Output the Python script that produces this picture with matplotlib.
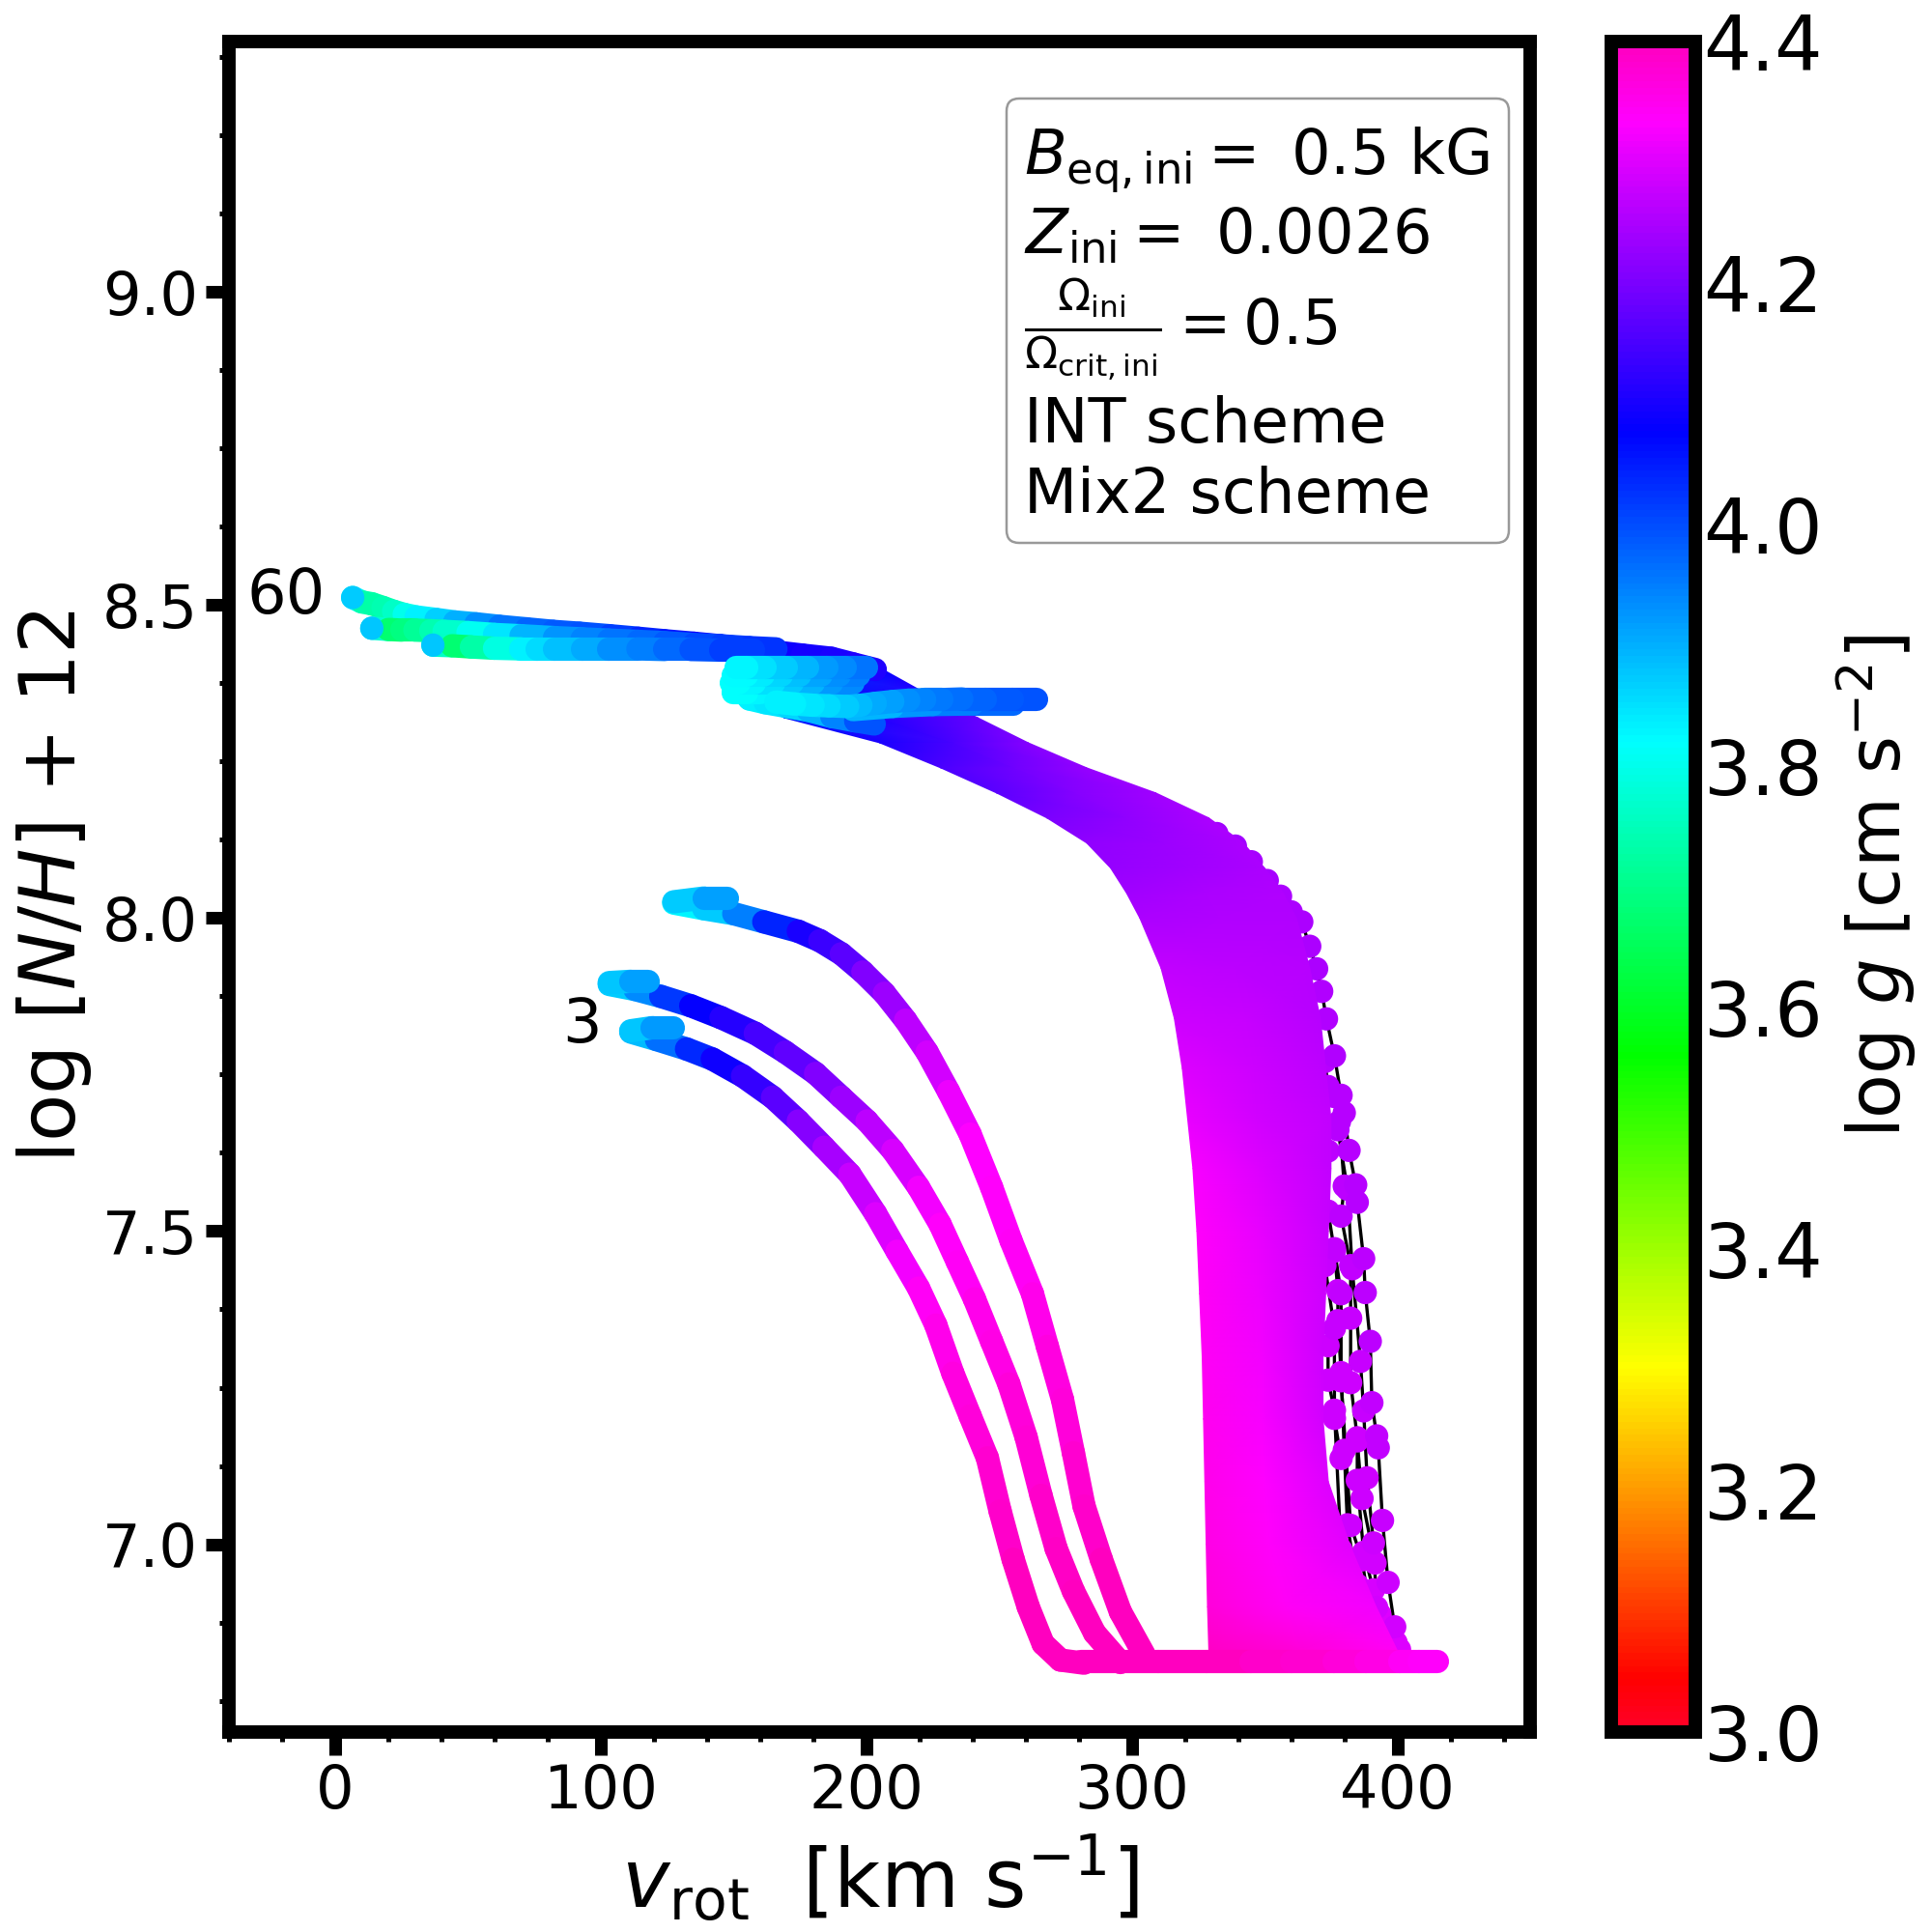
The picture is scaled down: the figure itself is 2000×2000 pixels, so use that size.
import numpy as np
import matplotlib
matplotlib.use("Agg")
import matplotlib.pyplot as plt
from matplotlib.collections import LineCollection
from matplotlib.colors import Normalize
from matplotlib.cm import ScalarMappable
from matplotlib.lines import Line2D
from matplotlib.patches import FancyBboxPatch
from matplotlib.ticker import MultipleLocator

# ---- massive-star fan: three bounding tracks sampled on shared N levels
fan_logn = [8.40, 8.36, 8.32, 8.28, 8.24, 8.20, 8.16, 8.12, 8.08, 8.04, 8.00, 7.92,
            7.84, 7.76, 7.68, 7.60, 7.50, 7.40, 7.30, 7.20, 7.10, 7.00, 6.90, 6.83]
fan_v_left = [150, 152, 169, 205, 228, 249, 268, 283, 292, 298, 303, 311,
              316, 319, 321, 323, 324.5, 325.5, 326.5, 327, 327.5, 328, 328.5, 329]
fan_v_mid = [178, 187, 205, 233, 256, 279, 298, 312, 321, 328, 333, 339,
             343, 346, 347, 348, 348, 348, 349, 349, 350, 352, 358, 364]
fan_v_right = [205, 222, 242, 261, 283, 309, 329, 342, 350, 357, 362, 367,
               371, 373, 375, 375, 374, 373, 372, 372, 374, 382, 392, 400]
fan_g_left = [3.90, 4.00, 4.05, 4.10, 4.15, 4.17, 4.20, 4.22, 4.23, 4.24, 4.25, 4.27,
              4.285, 4.30, 4.31, 4.325, 4.335, 4.34, 4.345, 4.35, 4.355, 4.36, 4.37, 4.39]
fan_g_mid = [4.00, 4.06, 4.11, 4.15, 4.19, 4.21, 4.22, 4.235, 4.24, 4.25, 4.255, 4.265,
             4.275, 4.285, 4.29, 4.30, 4.31, 4.315, 4.32, 4.325, 4.33, 4.335, 4.345, 4.37]
fan_g_right = [4.08, 4.12, 4.18, 4.21, 4.23, 4.24, 4.25, 4.25, 4.25, 4.255, 4.255, 4.26,
               4.26, 4.265, 4.27, 4.27, 4.275, 4.28, 4.285, 4.29, 4.30, 4.305, 4.32, 4.34]

# ---- ZAMS line along the bottom
zams_v = [281, 295, 310, 328, 345, 360, 376, 388, 401, 408, 415]
zams_n = [6.812, 6.812, 6.812, 6.812, 6.812, 6.812, 6.812, 6.812, 6.812, 6.812, 6.812]
zams_g = [4.40, 4.40, 4.40, 4.40, 4.39, 4.385, 4.375, 4.365, 4.35, 4.34, 4.33]

# ---- low-mass tracks
t1_v = [127.5, 138.8, 150.1, 161.4, 174.4, 182.5, 190.6, 198.7, 206.8, 214.8, 222.9, 231, 239.1, 247.2,
        254.5, 262.6, 268.2, 273.9, 278, 282, 288.5, 295.7, 304.6]
t1_n = [8.024, 8.015, 8.007, 7.994, 7.979, 7.964, 7.943, 7.914, 7.880, 7.837, 7.786, 7.723, 7.655, 7.570,
        7.485, 7.40, 7.316, 7.231, 7.146, 7.061, 6.976, 6.892, 6.824]
t1_g = [3.82, 3.84, 3.90, 4.00, 4.08, 4.12, 4.15, 4.19, 4.22, 4.25, 4.28, 4.30, 4.33, 4.335,
        4.34, 4.35, 4.36, 4.367, 4.375, 4.383, 4.39, 4.40, 4.40]
h1_v = [127.5, 138.8, 147.7]
h1_n = [8.026, 8.032, 8.032]
h1_g = [3.85, 3.90, 3.93]
t2_v = [103.2, 112.9, 122.6, 133.9, 145.3, 158.2, 169.5, 180.9, 190.6, 200.3, 210, 219.7, 227.8, 234.3, 240.7,
        247.2, 253.7, 260.2, 265.8, 271.5, 278, 286, 295.7]
t2_n = [7.894, 7.886, 7.875, 7.860, 7.841, 7.816, 7.786, 7.752, 7.714, 7.676, 7.629, 7.570, 7.511, 7.451, 7.392,
        7.324, 7.256, 7.171, 7.078, 6.993, 6.925, 6.858, 6.811]
t2_g = [3.84, 3.90, 3.98, 4.06, 4.10, 4.13, 4.16, 4.19, 4.22, 4.25, 4.28, 4.31, 4.33, 4.34, 4.35,
        4.358, 4.365, 4.373, 4.382, 4.39, 4.395, 4.40, 4.40]
h2_v = [103.2, 111.3, 117.8]
h2_n = [7.897, 7.899, 7.899]
h2_g = [3.86, 3.90, 3.93]
t3_v = [111.3, 121, 132.3, 142, 153.4, 164.7, 174.4, 184.1, 193.8, 203.5, 211.6, 219.7, 226.2, 232.6, 239.1,
        245.6, 250.4, 255.3, 261, 266.6, 273.1, 282]
t3_n = [7.818, 7.806, 7.791, 7.775, 7.748, 7.714, 7.676, 7.634, 7.591, 7.528, 7.468, 7.409, 7.350, 7.273, 7.205,
        7.138, 7.053, 6.976, 6.900, 6.841, 6.815, 6.81]
t3_g = [3.85, 3.93, 4.00, 4.07, 4.11, 4.15, 4.19, 4.23, 4.26, 4.29, 4.31, 4.335, 4.35, 4.36, 4.367,
        4.376, 4.385, 4.393, 4.40, 4.40, 4.40, 4.40]
h3_v = [111.3, 119.4, 127.5]
h3_n = [7.82, 7.825, 7.825]
h3_g = [3.86, 3.90, 3.94]

# ---- 60 Msun family: long tails reaching low rotation
a_v = [6.6, 10, 13.8, 18, 22, 26, 30.5, 38, 45, 53, 61.8, 72, 82, 92, 103.4, 114, 124, 135, 145, 156, 166, 176, 186.8, 195, 203.4]
a_n = [8.512, 8.505, 8.502, 8.496, 8.490, 8.485, 8.481, 8.477, 8.473, 8.470, 8.466, 8.462, 8.458, 8.455, 8.451, 8.447, 8.443, 8.439, 8.435, 8.430, 8.425, 8.420, 8.415, 8.406, 8.397]
a_g = [3.87, 3.75, 3.72, 3.735, 3.75, 3.78, 3.82, 3.85, 3.88, 3.92, 3.95, 3.97, 3.98, 3.99, 4.00, 4.03, 4.05, 4.07, 4.08, 4.085, 4.09, 4.095, 4.10, 4.105, 4.11]
b_v = [13.8, 20, 25, 30, 36, 41, 50, 60, 70, 82.6, 93, 103, 114, 124, 135, 145, 156, 166]
b_n = [8.463, 8.461, 8.460, 8.460, 8.459, 8.458, 8.456, 8.453, 8.451, 8.448, 8.446, 8.444, 8.442, 8.44, 8.437, 8.435, 8.432, 8.43]
b_g = [3.88, 3.67, 3.68, 3.70, 3.73, 3.75, 3.79, 3.82, 3.87, 3.92, 3.935, 3.95, 3.965, 3.98, 3.995, 4.01, 4.02, 4.03]
c_v = [36.8, 44, 51.3, 60, 70, 76, 82.6, 93, 103, 114, 124, 134, 145, 157.6]
c_n = [8.436, 8.435, 8.433, 8.431, 8.430, 8.43, 8.43, 8.43, 8.43, 8.43, 8.429, 8.429, 8.428, 8.428]
c_g = [3.88, 3.65, 3.70, 3.76, 3.82, 3.845, 3.87, 3.895, 3.92, 3.94, 3.96, 3.98, 4.00, 4.03]
end_v = [a_v[0], b_v[0], c_v[0]]
end_n = [a_n[0], b_n[0], c_n[0]]
end_g = [3.87, 3.88, 3.88]

# ---- hook stripes near 150-260 km/s
s1_v = [200, 192, 185, 178, 170, 162, 155, 151]
s1_n = [8.401, 8.401, 8.401, 8.401, 8.401, 8.401, 8.401, 8.401]
s1_g = [3.97, 3.95, 3.93, 3.91, 3.88, 3.86, 3.84, 3.82]
s2_v = [197, 190, 183, 175, 168, 161, 155, 150]
s2_n = [8.388, 8.388, 8.388, 8.388, 8.388, 8.388, 8.388, 8.388]
s2_g = [3.96, 3.94, 3.92, 3.90, 3.87, 3.85, 3.83, 3.82]
s3_v = [195, 187, 180, 172, 165, 158, 152, 149]
s3_n = [8.375, 8.375, 8.375, 8.375, 8.375, 8.375, 8.375, 8.375]
s3_g = [3.95, 3.93, 3.91, 3.88, 3.86, 3.84, 3.82, 3.81]
s4_v = [192, 185, 178, 171, 165, 160, 155, 150]
s4_n = [8.36, 8.36, 8.36, 8.36, 8.36, 8.36, 8.36, 8.36]
s4_g = [3.93, 3.91, 3.89, 3.87, 3.85, 3.835, 3.82, 3.81]
s5_v = [153, 156, 162, 170, 178, 187, 196, 203]
s5_n = [8.365, 8.35, 8.344, 8.338, 8.332, 8.322, 8.315, 8.31]
s5_g = [3.82, 3.83, 3.84, 3.85, 3.87, 3.92, 3.97, 4.02]
s6_v = [264, 255, 245, 236, 228.4, 222, 216, 210, 203.4, 198, 193, 186, 180, 173, 166]
s6_n = [8.35, 8.35, 8.35, 8.35, 8.349, 8.349, 8.348, 8.346, 8.343, 8.34, 8.338, 8.339, 8.34, 8.342, 8.345]
s6_g = [4.00, 3.99, 3.98, 3.97, 3.96, 3.95, 3.94, 3.925, 3.91, 3.895, 3.88, 3.865, 3.85, 3.84, 3.83]
s7_v = [255.5, 240, 225, 210, 195]
s7_n = [8.342, 8.342, 8.341, 8.338, 8.333]
s7_g = [3.98, 3.96, 3.94, 3.91, 3.88]

# ---- outer tracks, individual saved models visible beyond the fan
o1_v = [332, 339, 345, 351, 356, 360, 364, 367, 369.6, 371.5, 373.3, 376.3, 378.8, 380, 381.8, 384.3, 384.9, 387.3, 387.9, 389.8,
        390.4, 392.2, 392.8, 394.4, 396.5, 399, 400.8]
o1_n = [8.135, 8.115, 8.09, 8.06, 8.035, 8.01, 7.994, 7.955, 7.919, 7.883, 7.839, 7.78, 7.717, 7.689, 7.629, 7.574, 7.546, 7.456, 7.402, 7.324,
        7.226, 7.173, 7.154, 7.038, 6.939, 6.868, 6.832]
o1_g = [4.24, 4.24, 4.245, 4.245, 4.25, 4.25, 4.25, 4.25, 4.25, 4.255, 4.255, 4.255, 4.26, 4.26, 4.26, 4.26, 4.26, 4.265, 4.265, 4.265,
        4.27, 4.27, 4.27, 4.275, 4.28, 4.29, 4.30]
o2_v = [377.6, 381.2, 383, 386.1, 387.3, 388.6, 391, 392.2, 399.5]
o2_n = [7.662, 7.567, 7.44, 7.292, 7.213, 7.106, 7.002, 6.899, 6.843]
o2_g = [4.26, 4.265, 4.27, 4.275, 4.275, 4.28, 4.285, 4.29, 4.30]
o3_v = [376.3, 378.8, 378.8, 382.4, 386.7, 388.6]
o3_n = [7.472, 7.40, 7.261, 7.03, 6.975, 6.923]
o3_g = [4.27, 4.27, 4.28, 4.285, 4.29, 4.295]
o4_v = [372.7, 376.3, 376.3, 378.8, 384.9, 386.7, 391.6]
o4_n = [7.445, 7.345, 7.201, 7.137, 7.165, 7.073, 6.97]
o4_g = [4.275, 4.275, 4.28, 4.285, 4.28, 4.285, 4.29]
o5_v = [372.7, 373.9, 373.9, 373.9, 376.3, 377.6, 377.6, 378.8, 380, 381.2, 384.9, 388.6]
o5_n = [7.771, 7.731, 7.628, 7.532, 7.468, 7.405, 7.357, 7.274, 7.15, 7.031, 6.935, 6.88]
o5_g = [4.26, 4.26, 4.265, 4.27, 4.27, 4.275, 4.275, 4.28, 4.285, 4.29, 4.295, 4.30]
o6_v = [376.3, 378.2, 380, 378.8, 382.4, 382.4, 382.4, 384.9, 384.9, 387.3, 391, 393.4]
o6_n = [7.715, 7.675, 7.572, 7.524, 7.445, 7.361, 7.258, 7.17, 7.102, 6.987, 6.927, 6.888]
o6_g = [4.26, 4.26, 4.265, 4.265, 4.27, 4.275, 4.28, 4.28, 4.285, 4.29, 4.295, 4.30]
o7_v = [373.9, 373.9, 376.3, 378.8]
o7_n = [7.317, 7.262, 7.214, 6.991]
o7_g = [4.28, 4.28, 4.285, 4.29]

x_major = 100
x_minor = 20
y_major = 0.5
y_minor = 0.125
cbar_ticks = [3.0, 3.2, 3.4, 3.6, 3.8, 4.0, 4.2, 4.4]
legend_labels = [r'$B_{\rm eq, ini} = $ 0.5 kG',
                 r'$Z_{\rm ini} = $ 0.0026',
                 r'$\frac{\Omega_{\rm ini}}{\Omega_{\rm crit, ini}} = 0.5$',
                 'INT scheme',
                 'Mix2 scheme']

cmap = plt.get_cmap('gist_rainbow')
norm = Normalize(3.0, 4.4)
LW_TRACK = 8.7
S_TRACK = LW_TRACK ** 2

fig = plt.figure(figsize=(10, 10), dpi=200)
ax = fig.add_axes([237 / 2000, 1 - 1793 / 2000, 1347 / 2000, 1750 / 2000])
cax = fig.add_axes([1668 / 2000, 1 - 1793 / 2000, 87 / 2000, 1750 / 2000])


def track(v, n, g, z):
    v, n, g = np.asarray(v, float), np.asarray(n, float), np.asarray(g, float)
    pts = np.column_stack([v, n])
    segs = np.stack([pts[:-1], pts[1:]], axis=1)
    lc = LineCollection(segs, cmap=cmap, norm=norm, linewidths=LW_TRACK,
                        capstyle='round', joinstyle='round', zorder=z)
    lc.set_array(0.5 * (g[:-1] + g[1:]))
    ax.add_collection(lc)


# thin black tracks and their saved models lie below the filled fan
for v, n, g in [(o7_v, o7_n, o7_g), (o5_v, o5_n, o5_g), (o4_v, o4_n, o4_g), (o3_v, o3_n, o3_g),
                (o6_v, o6_n, o6_g), (o2_v, o2_n, o2_g), (o1_v, o1_n, o1_g)]:
    ax.plot(v, n, color='k', lw=1.2, zorder=2)
    ax.scatter(v, n, c=g, cmap=cmap, norm=norm, s=S_TRACK, linewidths=0, zorder=2.5)

X = np.column_stack([fan_v_left, fan_v_mid, fan_v_right])
Y = np.column_stack([fan_logn, fan_logn, fan_logn])
C = np.column_stack([fan_g_left, fan_g_mid, fan_g_right])
ax.pcolormesh(X, Y, C, shading='gouraud', cmap=cmap, norm=norm, zorder=3)

for v, n, g in [(t1_v, t1_n, t1_g), (t2_v, t2_n, t2_g), (t3_v, t3_n, t3_g), (zams_v, zams_n, zams_g)]:
    track(v, n, g, 4)
for v, n, g in [(h1_v, h1_n, h1_g), (h2_v, h2_n, h2_g), (h3_v, h3_n, h3_g)]:
    track(v, n, g, 4.5)
for v, n, g in [(a_v, a_n, a_g), (b_v, b_n, b_g), (c_v, c_n, c_g)]:
    track(v, n, g, 5)
ax.scatter(end_v, end_n, c=end_g, cmap=cmap, norm=norm, s=S_TRACK, linewidths=0, zorder=5.5)
for v, n, g in [(s5_v, s5_n, s5_g), (s7_v, s7_n, s7_g), (s4_v, s4_n, s4_g), (s3_v, s3_n, s3_g),
                (s2_v, s2_n, s2_g), (s1_v, s1_n, s1_g), (s6_v, s6_n, s6_g)]:
    track(v, n, g, 6)

ax.set_xlim(-40, 450)
ax.set_ylim(6.7, 9.4)
ax.xaxis.set_major_locator(MultipleLocator(x_major))
ax.xaxis.set_minor_locator(MultipleLocator(x_minor))
ax.yaxis.set_major_locator(MultipleLocator(y_major))
ax.yaxis.set_minor_locator(MultipleLocator(y_minor))
ax.tick_params(which='major', length=8.6, width=4.7, labelsize=22.4, pad=3)
ax.tick_params(which='minor', length=3.6, width=1.8)
for s in ax.spines.values():
    s.set_linewidth(5)

ax.set_xlabel(r'$v_{\rm rot}$  [km s$^{-1}$]', fontsize=30)
ax.xaxis.set_label_coords(0.5, -0.0595)
ax.set_ylabel(r'log [$N/H$] + 12', fontsize=29)
ax.yaxis.set_label_coords(-0.104, 0.5)
ax.text(-18.5, 8.515, '60', fontsize=23, ha='center', va='center')
ax.text(92.8, 7.83, '3', fontsize=23, ha='center', va='center')

frame = FancyBboxPatch((1042 / 2000, 1 - 562 / 2000), 520 / 2000, 460 / 2000,
                       boxstyle='round,pad=0,rounding_size=0.0065', transform=fig.transFigure,
                       facecolor='white', edgecolor='0.6', linewidth=0.9, zorder=7)
ax.add_patch(frame)
handles = [Line2D([], [], ls='none', label=t) for t in legend_labels]
leg = ax.legend(handles=handles, loc='upper right',
                bbox_to_anchor=((1561 - 237) / 1347, 1 - (110 - 43) / 1750),
                borderaxespad=0, fontsize=23, handlelength=0, handletextpad=0,
                borderpad=0.3, labelspacing=0.18, frameon=False)
leg.set_zorder(8)

cb = fig.colorbar(ScalarMappable(norm=norm, cmap=cmap), cax=cax, ticks=cbar_ticks)
cb.outline.set_linewidth(5)
cb.ax.tick_params(length=0, labelsize=28, pad=3)
cb.set_label(r'log $g$ [cm s$^{-2}$]', fontsize=27, labelpad=4)

fig.savefig('out.png', dpi=200)
